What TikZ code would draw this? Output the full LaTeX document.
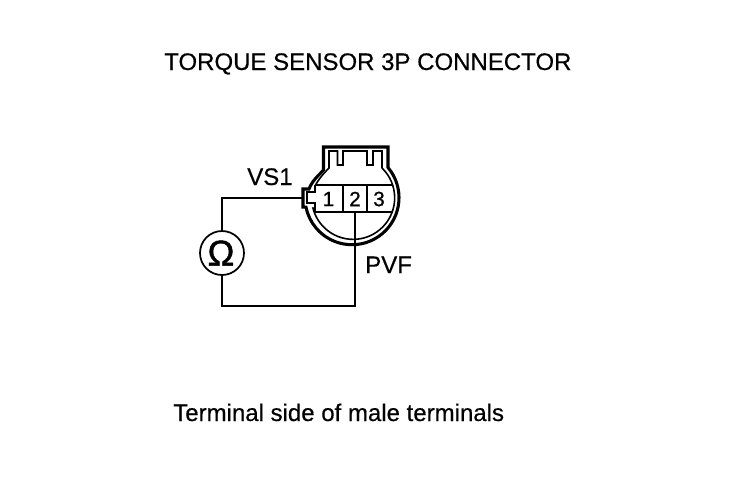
\documentclass[tikz,border=0pt]{standalone}
\usepackage{fontspec}
\setmainfont[FakeBold=0.4]{Liberation Sans}
\newfontfamily\omfont[FakeBold=1.2]{Liberation Sans}
\newfontfamily\numfont[FakeBold=0.8]{Liberation Sans}
\tikzset{
  thinl/.style={draw=black,line width=1.2pt},
  thickl/.style={draw=black,line width=2.3pt},
  wire/.style={draw=black,line width=1.5pt},
  lab/.style={inner sep=0pt,anchor=base west,font=\fontsize{18pt}{20pt}\selectfont},
  num/.style={inner sep=0pt,font=\numfont\fontsize{15.5pt}{16pt}\selectfont},
  meter/.style={circle,draw=black,line width=1.3pt,minimum size=33pt,inner sep=0pt},
}
\begin{document}
\begin{tikzpicture}[x=0.75pt,y=-0.75pt]
\useasboundingbox (0,0) rectangle (736,480);
\fill[white] (0,0) rectangle (736,480);
\node[lab] (title) at (164,70) {TORQUE SENSOR 3P CONNECTOR};
\node[lab] (foot) at (173,421) {Terminal side of male terminals};
\node[lab] (vs) at (247,185) {VS1};
\node[lab] (pvf) at (365,273) {PVF};
% connector outer
\draw[thickl,line join=miter]
  (303,207) -- (303,189) -- (309,189)
  .. controls (312,181) and (318,176) .. (323.5,170)
  -- (323.5,147) -- (388,147) -- (388,167.5)
  arc[start angle=-40,end angle=168.5,x radius=47,y radius=47]
  -- cycle;
% connector inner
\draw[thinl]
  (315,186) .. controls (318,180) and (323,174) .. (329,168)
  -- (329,151) -- (337.5,151) -- (337.5,165) -- (343,165) -- (343,151)
  -- (367,151) -- (367,165) -- (373,165) -- (373,151) -- (382,151) -- (382,168);
\draw[thinl] (382,168) arc[start angle=-46,end angle=167,x radius=41.5,y radius=41.5];
\draw[thinl] (315,185) -- (315,192) -- (307,192) -- (307,203) -- (315,203) -- (315,212);
\draw[thinl] (315,185) -- (393,185);
\draw[thinl] (315,212) -- (393,212);
\draw[thinl] (343,185) -- (343,212);
\draw[thinl] (367,185) -- (367,212);
\node[num] (n1) at (328.5,199) {1};
\node[num] (n2) at (355,199) {2};
\node[num] (n3) at (379,199) {3};
% meter
\node[meter] (m) at (222,253) {\hspace{-1.5pt}\omfont\fontsize{27pt}{27pt}\selectfont\char"03A9};
\coordinate (a) at (302,198);
\coordinate (b) at (355,212);
\draw[wire] (a) -- (222,198) -- (m.north);
\draw[wire] (m.south) -- (222,306) -- (355,306) -- (b);
\end{tikzpicture}
\end{document}
